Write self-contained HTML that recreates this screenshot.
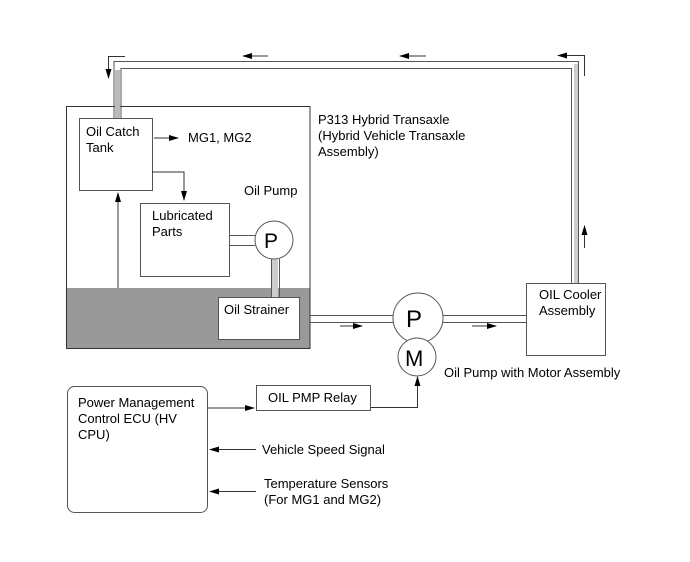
<!DOCTYPE html>
<html><head><style>body{margin:0;background:#fff}svg{display:block}text{font-family:"Liberation Sans",sans-serif;font-size:13px;fill:#000}</style></head><body>
<svg width="690" height="562" viewBox="0 0 690 562">
<defs><marker id="a" markerWidth="10" markerHeight="8" refX="9" refY="4" orient="auto" markerUnits="userSpaceOnUse"><path d="M0,1 L10,4 L0,7 z" fill="#000"/></marker></defs>
<g fill="none" stroke="#555" stroke-width="1">
<rect x="66" y="288" width="244" height="60" fill="#999" stroke="none"/>
<rect x="66.5" y="106.5" width="243.5" height="242" stroke="#333"/>
<path d="M576,64 L576,283" stroke="#ccc" stroke-width="4"/>
<path d="M114,118 L114,61.5 L578.5,61.5 L578.5,283"/>
<path d="M121,118 L121,68.5 L571.5,68.5 L571.5,283"/>
<path d="M117.5,70 L117.5,118" stroke="#bbb" stroke-width="5"/>
<rect x="79.5" y="118.5" width="73" height="72" fill="#fff"/>
<rect x="140.5" y="203.5" width="89" height="73" fill="#fff"/>
<path d="M152,172 L184,172 L184,200" stroke="#333" marker-end="url(#a)"/>
<path d="M118,288 L118,193" stroke="#333" marker-end="url(#a)"/>
<path d="M154,138 L178,138" stroke="#333" marker-end="url(#a)"/>
<path d="M229,235.5 L255,235.5 M229,245.5 L255,245.5"/>
<path d="M275,259 L275,297" stroke="#ccc" stroke-width="6"/>
<path d="M271.5,259 L271.5,297 M279.5,259 L279.5,297"/>
<circle cx="274" cy="240" r="19" fill="#fff"/>
<rect x="218.5" y="297.5" width="81" height="42" fill="#fff"/>
<path d="M310,315.5 L393,315.5 M310,322.5 L394,322.5 M442,315.5 L526,315.5 M442,322.5 L526,322.5"/>
<circle cx="418" cy="318" r="25" fill="#fff"/>
<circle cx="417" cy="357" r="19" fill="#fff"/>
<rect x="526.5" y="283.5" width="79" height="72" fill="#fff"/>
<g stroke="#333">
<path d="M340,326 L362,326" marker-end="url(#a)"/>
<path d="M472,326 L496,326" marker-end="url(#a)"/>
<path d="M268,56 L243,56" marker-end="url(#a)"/>
<path d="M426,56 L400,56" marker-end="url(#a)"/>
<path d="M125,56.5 L108.5,56.5 L108.5,78" marker-end="url(#a)"/>
<path d="M584.5,76 L584.5,55.5 L560,55.5"/>
<path d="M563,55.5 L558,55.5" marker-end="url(#a)"/>
<path d="M584.5,248 L584.5,226" marker-end="url(#a)"/>
<path d="M208,408 L254,408" marker-end="url(#a)"/>
<path d="M370,407.5 L417.5,407.5 L417.5,377" marker-end="url(#a)"/>
<path d="M256,449.5 L210,449.5" marker-end="url(#a)"/>
<path d="M256,491.5 L210,491.5" marker-end="url(#a)"/>
</g>
<rect x="67.5" y="386.5" width="140" height="126" rx="7"/>
<rect x="256.5" y="385.5" width="114" height="25"/>
</g>
<text x="86" y="136">Oil Catch</text><text x="86" y="152">Tank</text>
<text x="188" y="142">MG1, MG2</text>
<text x="152" y="220">Lubricated</text><text x="152" y="236">Parts</text>
<text x="244" y="195">Oil Pump</text>
<text x="318" y="124">P313 Hybrid Transaxle</text>
<text x="318" y="140">(Hybrid Vehicle Transaxle</text>
<text x="318" y="156">Assembly)</text>
<text x="224" y="314">Oil Strainer</text>
<text x="264" y="248" style="font-size:21px">P</text>
<text x="406" y="327" style="font-size:24px">P</text>
<text x="405" y="366" style="font-size:22px">M</text>
<text x="539" y="299">OIL Cooler</text><text x="539" y="315">Assembly</text>
<text x="444" y="377">Oil Pump with Motor Assembly</text>
<text x="78" y="407">Power Management</text>
<text x="78" y="423">Control ECU (HV</text>
<text x="78" y="439">CPU)</text>
<text x="268" y="402">OIL PMP Relay</text>
<text x="262" y="454">Vehicle Speed Signal</text>
<text x="264" y="488">Temperature Sensors</text>
<text x="264" y="504">(For MG1 and MG2)</text>
</svg>
</body></html>
